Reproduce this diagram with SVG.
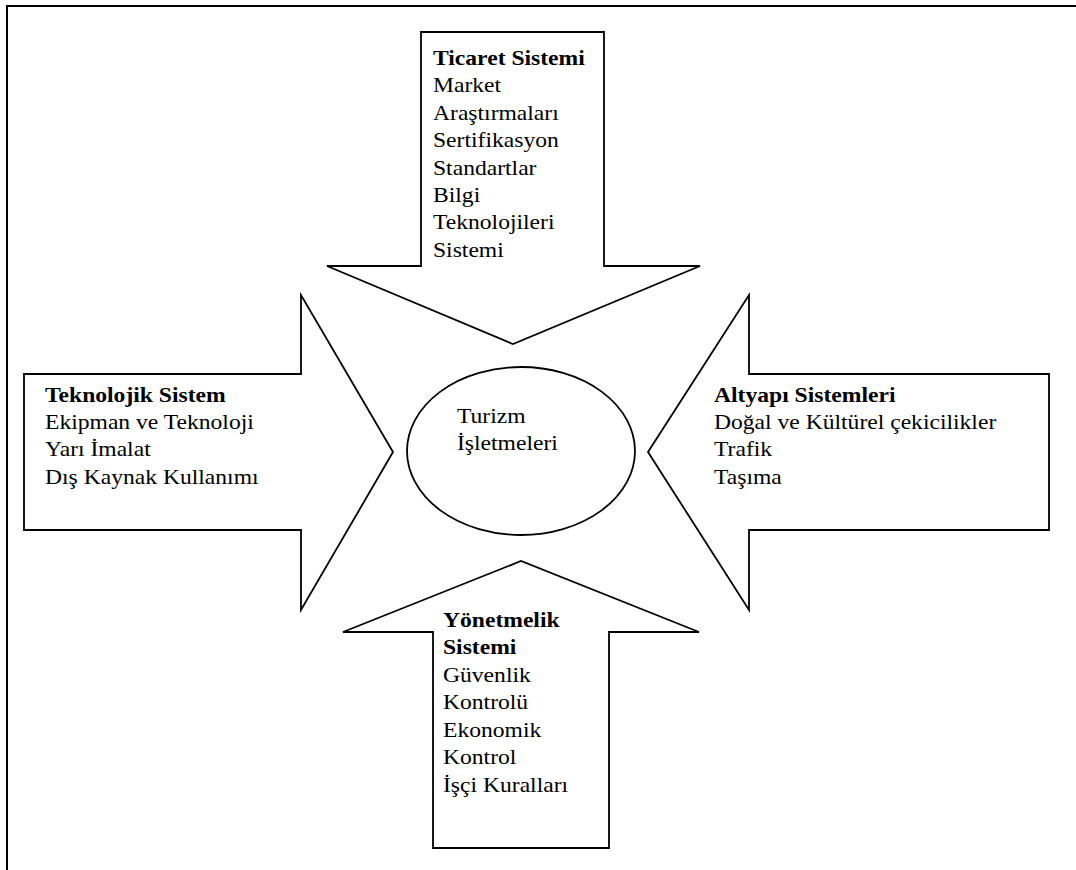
<svg xmlns="http://www.w3.org/2000/svg" width="1076" height="870" viewBox="0 0 1076 870">
  <defs>
    <style>
      .frame { fill: none; stroke: #000; stroke-width: 2; }
      .shape { fill: #fff; stroke: #000; stroke-width: 1.8; stroke-linejoin: miter; }
      .lbl { font-size: 20px; fill: #000; }
      .hd { font-weight: bold; }
    </style>
  </defs>
  <rect x="0" y="0" width="1076" height="870" fill="#fff"/>

  <!-- page frame: top and left rules only -->
  <g id="frame">
    <path class="frame" d="M7 870 V6 H1076"/>
  </g>

  <g font-family="Liberation Serif, DejaVu Serif, serif">
    <!-- downward block arrow -->
    <g id="ticaret">
      <polygon class="shape" points="421,32 604,32 604,266 700,266 513,344 327,266 421,266"/>
      <text class="lbl" transform="translate(433 65) scale(1.18 1)">
        <tspan class="hd" x="0" y="0">Ticaret Sistemi</tspan>
        <tspan x="0" y="27.4">Market</tspan>
        <tspan x="0" y="54.8">Araştırmaları</tspan>
        <tspan x="0" y="82.2">Sertifikasyon</tspan>
        <tspan x="0" y="109.6">Standartlar</tspan>
        <tspan x="0" y="137">Bilgi</tspan>
        <tspan x="0" y="164.4">Teknolojileri</tspan>
        <tspan x="0" y="191.8">Sistemi</tspan>
      </text>
    </g>

    <!-- rightward block arrow -->
    <g id="teknolojik">
      <polygon class="shape" points="24,374 301,374 301,295 393,452 301,610 301,530 24,530"/>
      <text class="lbl" transform="translate(45 402) scale(1.18 1)">
        <tspan class="hd" x="0" y="0">Teknolojik Sistem</tspan>
        <tspan x="0" y="27.2">Ekipman ve Teknoloji</tspan>
        <tspan x="0" y="54.4">Yarı İmalat</tspan>
        <tspan x="0" y="81.6">Dış Kaynak Kullanımı</tspan>
      </text>
    </g>

    <!-- leftward block arrow -->
    <g id="altyapi">
      <polygon class="shape" points="1049,374 749,374 749,295 648,452 749,610 749,530 1049,530"/>
      <text class="lbl" transform="translate(714 402) scale(1.18 1)">
        <tspan class="hd" x="0" y="0">Altyapı Sistemleri</tspan>
        <tspan x="0" y="27.2">Doğal ve Kültürel çekicilikler</tspan>
        <tspan x="0" y="54.4">Trafik</tspan>
        <tspan x="0" y="81.6">Taşıma</tspan>
      </text>
    </g>

    <!-- upward block arrow -->
    <g id="yonetmelik">
      <polygon class="shape" points="433,848 609,848 609,632 699,632 521,561 343,632 433,632"/>
      <text class="lbl" transform="translate(443 627) scale(1.18 1)">
        <tspan class="hd" x="0" y="0">Yönetmelik</tspan>
        <tspan class="hd" x="0" y="27.5">Sistemi</tspan>
        <tspan x="0" y="55">Güvenlik</tspan>
        <tspan x="0" y="82.5">Kontrolü</tspan>
        <tspan x="0" y="110">Ekonomik</tspan>
        <tspan x="0" y="137.5">Kontrol</tspan>
        <tspan x="0" y="165">İşçi Kuralları</tspan>
      </text>
    </g>

    <!-- central node -->
    <g id="turizm">
      <ellipse class="shape" cx="521" cy="451" rx="114" ry="84"/>
      <text class="lbl" transform="translate(457 423) scale(1.18 1)">
        <tspan x="0" y="0">Turizm</tspan>
        <tspan x="0" y="27">İşletmeleri</tspan>
      </text>
    </g>
  </g>

  <g id="connectors"/>
</svg>
